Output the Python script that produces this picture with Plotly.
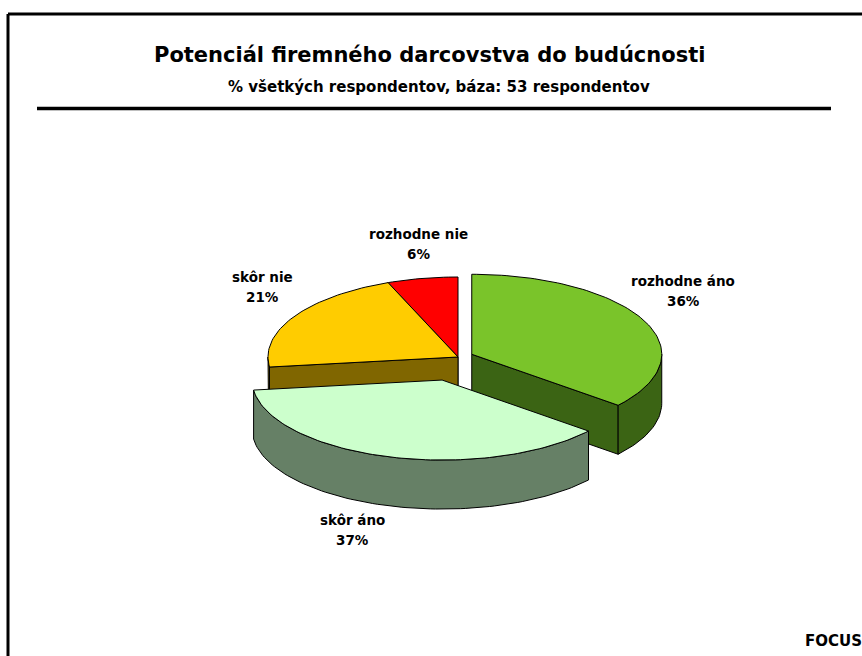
import numpy as np
import plotly.graph_objects as go

# ---------------- data ----------------
categories = ["rozhodne áno", "skôr áno", "skôr nie", "rozhodne nie"]
values = [36, 37, 21, 6]

title_text = "Potenciál firemného darcovstva do budúcnosti"
subtitle_text = "% všetkých respondentov, báza: 53 respondentov"
source_text = "FOCUS"

# ---------------- styles / layout ----------------
top_colors = ["#7AC42A", "#CCFFCC", "#FFCC00", "#FF0000"]
side_colors = ["#3B6414", "#668066", "#806600", "#800000"]
explode = [0.08, 0.30, 0.0, 0.0]
label_pos = [(683, 281), (352, 520), (262, 277), (418, 234)]
LINE_GAP = 20

W, H = 862, 656
CX, CY, RX, RY, DEPTH = 458, 357, 190, 80, 49
FONT = "DejaVu Sans"


def rim(theta, ax, ay, dz=0.0):
    t = np.radians(theta)
    return ax + RX * np.sin(t), ay - RY * np.cos(t) + dz


def arc(a, b, ax, ay, dz=0.0, n=None):
    if n is None:
        n = max(2, int(abs(b - a) / 1.5) + 2)
    th = np.linspace(a, b, n)
    xs, ys = rim(th, ax, ay, dz)
    return list(xs), list(ys)


fig = go.Figure()

total = float(sum(values))
angles = np.concatenate([[0.0], np.cumsum(values) / total * 360.0])

slices = []
for i, v in enumerate(values):
    s, e = angles[i], angles[i + 1]
    mid = (s + e) / 2
    ox = explode[i] * RX * np.sin(np.radians(mid))
    oy = -explode[i] * RY * np.cos(np.radians(mid))
    front = oy - RY * np.cos(np.radians(mid))
    slices.append((front, i, s, e, CX + ox, CY + oy))

slices.sort(key=lambda t: t[0])


def add_poly(xs, ys, color, name):
    fig.add_trace(go.Scatter(
        x=xs + [xs[0]], y=ys + [ys[0]], mode="lines", fill="toself",
        fillcolor=color, line=dict(color="black", width=1),
        name=name, hoverinfo="name", showlegend=False))


for front, i, s, e, ax, ay in slices:
    nm = f"{categories[i]}: {values[i]}%"
    # radial faces facing the viewer
    if np.sin(np.radians(s)) < -1e-9:
        rx_, ry_ = rim(s, ax, ay)
        add_poly([ax, rx_, rx_, ax], [ay, ry_, ry_ + DEPTH, ay + DEPTH], side_colors[i], nm)
    if np.sin(np.radians(e)) > 1e-9:
        rx_, ry_ = rim(e, ax, ay)
        add_poly([ax, rx_, rx_, ax], [ay, ry_, ry_ + DEPTH, ay + DEPTH], side_colors[i], nm)
    # outer curved wall (front half only)
    a, b = max(s, 90.0), min(e, 270.0)
    if b > a:
        xt, yt = arc(a, b, ax, ay)
        xb, yb = arc(b, a, ax, ay, DEPTH)
        add_poly(xt + xb, yt + yb, side_colors[i], nm)
    # top surface
    xt, yt = arc(s, e, ax, ay)
    add_poly([ax] + xt, [ay] + yt, top_colors[i], nm)

annotations = []
for i, name in enumerate(categories):
    lx, ly = label_pos[i]
    annotations.append(dict(
        x=lx, y=ly, xref="x", yref="y", showarrow=False,
        text=f"<b>{name}</b>", align="center",
        font=dict(family=FONT, size=13.5, color="black")))
    annotations.append(dict(
        x=lx, y=ly + LINE_GAP, xref="x", yref="y", showarrow=False,
        text=f"<b>{values[i]}%</b>", align="center",
        font=dict(family=FONT, size=13.5, color="black")))

annotations += [
    dict(x=429, y=55, xref="x", yref="y", showarrow=False,
         text=f"<b>{title_text}</b>",
         font=dict(family=FONT, size=21, color="black")),
    dict(x=439, y=87, xref="x", yref="y", showarrow=False,
         text=f"<b>{subtitle_text}</b>",
         font=dict(family=FONT, size=15, color="black")),
    dict(x=803, y=641, xref="x", yref="y", showarrow=False, xanchor="left",
         text=f"<b>{source_text}</b>",
         font=dict(family=FONT, size=15, color="black")),
]

shapes = [
    dict(type="line", xref="x", yref="y", x0=8, y0=14, x1=W, y1=14,
         line=dict(color="black", width=3)),
    dict(type="line", xref="x", yref="y", x0=8, y0=14, x1=8, y1=H,
         line=dict(color="black", width=3)),
    dict(type="line", xref="x", yref="y", x0=37, y0=108.5, x1=831, y1=108.5,
         line=dict(color="black", width=3.5)),
]

fig.update_layout(
    width=W, height=H,
    margin=dict(l=0, r=0, t=0, b=0),
    paper_bgcolor="white", plot_bgcolor="white",
    xaxis=dict(range=[0, W], visible=False, fixedrange=True),
    yaxis=dict(range=[H, 0], visible=False, fixedrange=True),
    annotations=annotations, shapes=shapes,
    showlegend=False,
)

fig.write_html(
    "out.html",
    config={"displayModeBar": False},
    post_script="document.body.style.margin='0';document.body.style.overflow='hidden';",
)
